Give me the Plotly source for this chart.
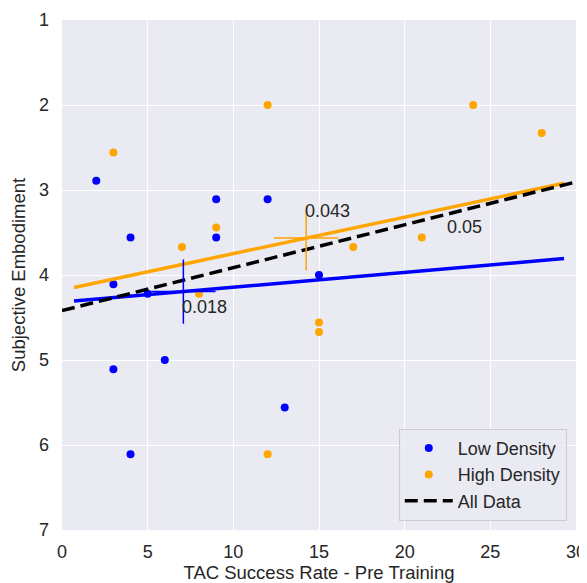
import numpy as np
import plotly.graph_objects as go

# Data
low_x = [2, 4, 9, 9, 12, 3, 5, 3, 6, 4, 13, 15]
low_y = [2.89, 3.56, 3.11, 3.56, 3.11, 4.11, 4.22, 5.11, 5.00, 6.11, 5.56, 4.00]
high_x = [3, 12, 9, 7, 8, 12, 15, 15, 17, 21, 24, 28]
high_y = [2.56, 2.00, 3.44, 3.67, 4.22, 6.11, 4.56, 4.67, 3.67, 3.56, 2.00, 2.33]
slope_labels = ["0.018", "0.043", "0.05"]
x_ticks = [0, 5, 10, 15, 20, 25, 30]
y_ticks = [1, 2, 3, 4, 5, 6, 7]

BLUE = "#0000ff"
ORANGE = "#ffa500"
TXT = "#262626"
FONT = "Liberation Sans, Arial, sans-serif"
FS = 18

all_x = np.array(low_x + high_x, dtype=float)
all_y = np.array(low_y + high_y, dtype=float)
pad = 0.05 * (all_x.max() - all_x.min())
fit_x = np.array([all_x.min() - pad, all_x.max() + pad])

def fit(x, y):
    s, b = np.polyfit(np.array(x, float), np.array(y, float), 1)
    return s, b

s_low, b_low = fit(low_x, low_y)
s_high, b_high = fit(high_x, high_y)
s_all, b_all = fit(all_x, all_y)

fig = go.Figure()

fig.add_trace(go.Scatter(x=low_x, y=low_y, mode="markers", name="Low Density",
                         marker=dict(color=BLUE, size=8)))
fig.add_trace(go.Scatter(x=high_x, y=high_y, mode="markers", name="High Density",
                         marker=dict(color=ORANGE, size=8)))

fig.add_trace(go.Scatter(x=fit_x, y=s_low * fit_x + b_low, mode="lines", showlegend=False,
                         line=dict(color=BLUE, width=3.5)))
fig.add_trace(go.Scatter(x=fit_x, y=s_high * fit_x + b_high, mode="lines", showlegend=False,
                         line=dict(color=ORANGE, width=3.5)))
ax_x = np.array([x_ticks[0], x_ticks[-1]], float)
fig.add_trace(go.Scatter(x=ax_x, y=s_all * ax_x + b_all, mode="lines", name="All Data",
                         line=dict(color="black", width=3.5, dash="13px,6px")))

for xs, ys, col in [(low_x, low_y, BLUE), (high_x, high_y, ORANGE)]:
    fig.add_trace(go.Scatter(x=[np.mean(xs)], y=[np.mean(ys)], mode="markers", showlegend=False,
                             marker=dict(symbol="cross-thin", size=46, color=col,
                                         line=dict(color=col, width=1.5))))

afont = dict(size=FS, color=TXT, family=FONT)
fig.add_annotation(x=np.mean(low_x), y=np.mean(low_y), text=slope_labels[0], showarrow=False,
                   xanchor="left", yanchor="middle", yshift=-15, xshift=-3, font=afont)
fig.add_annotation(x=np.mean(high_x), y=np.mean(high_y), text=slope_labels[1], showarrow=False,
                   xanchor="left", yanchor="middle", yshift=27, xshift=-3, font=afont)
fig.add_annotation(x=22.5, y=3.43, text=slope_labels[2], showarrow=False,
                   xanchor="left", yanchor="middle", xshift=-3, font=afont)

# page body has an 8px default margin, so the figure is sized to fill the rest
fig.update_layout(
    width=579, height=575,
    margin=dict(l=54, r=11, t=12, b=53),
    paper_bgcolor="white", plot_bgcolor="#eaeaf2",
    font=dict(family=FONT, size=FS, color=TXT),
    showlegend=True,
    legend=dict(x=0.982, y=0.018, xanchor="right", yanchor="bottom",
                bgcolor="rgba(234,234,242,0.8)", bordercolor="#cccccc", borderwidth=1,
                font=dict(size=FS, color=TXT, family=FONT), tracegroupgap=0,
                itemwidth=48),
    xaxis=dict(range=[x_ticks[0], x_ticks[-1]], tickvals=x_ticks, showgrid=True,
               gridcolor="white", gridwidth=1.2, zeroline=False, ticks="",
               automargin=False, ticklabelstandoff=9,
               title=dict(text="TAC Success Rate - Pre Training", standoff=4,
                          font=dict(size=18.5, color=TXT)),
               tickfont=dict(size=FS, color=TXT)),
    yaxis=dict(range=[y_ticks[-1], y_ticks[0]], tickvals=y_ticks, showgrid=True,
               gridcolor="white", gridwidth=1.2, zeroline=False, ticks="",
               automargin=False, ticklabelstandoff=12,
               title=dict(text="Subjective Embodiment", standoff=8,
                          font=dict(size=18.5, color=TXT)),
               tickfont=dict(size=FS, color=TXT)),
)

fig.write_html("out.html")
